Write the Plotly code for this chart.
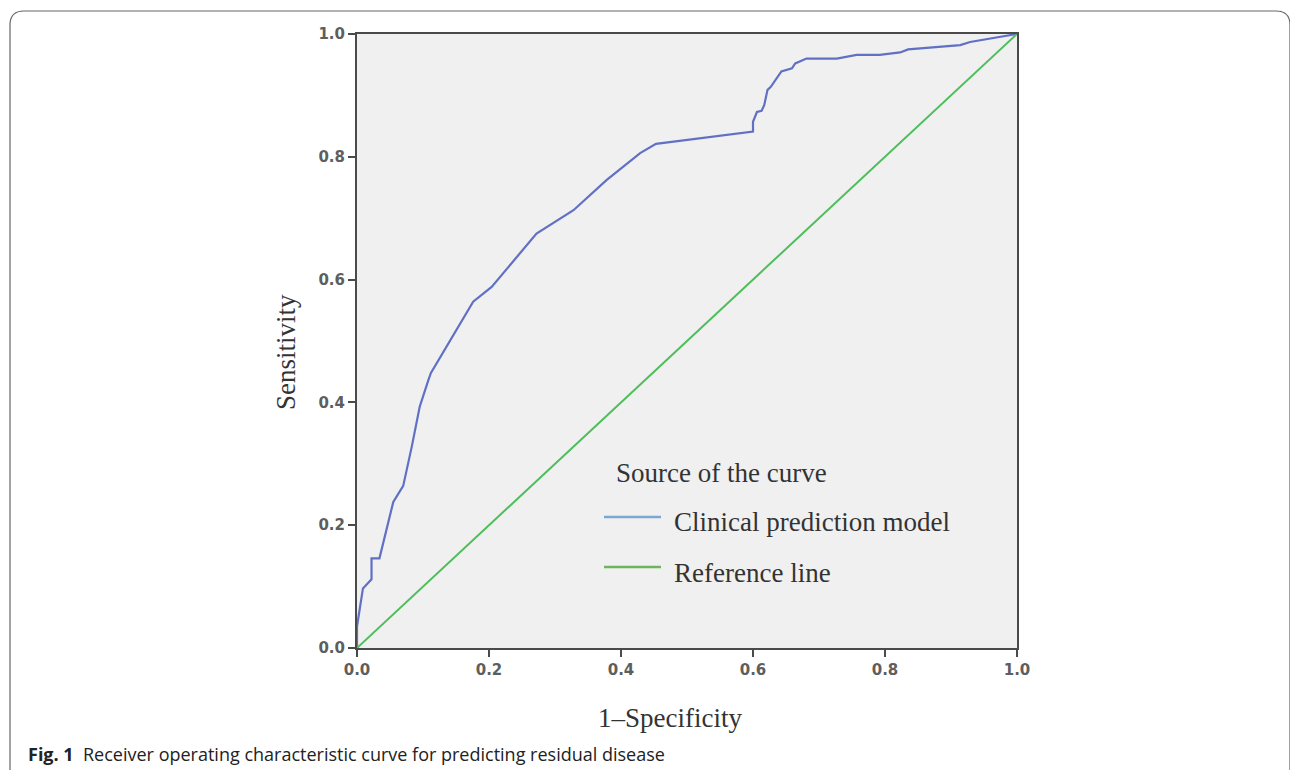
import plotly.graph_objects as go

# ROC curve points (1-specificity, sensitivity)
fpr = [0.0, 0.0, 0.009, 0.022, 0.022, 0.034, 0.055, 0.070, 0.083, 0.095, 0.108, 0.112,
       0.176, 0.204, 0.272, 0.328, 0.378, 0.429, 0.453, 0.600, 0.600, 0.606, 0.613,
       0.617, 0.622, 0.627, 0.643, 0.659, 0.664, 0.681, 0.727, 0.757, 0.792, 0.823,
       0.835, 0.914, 0.929, 1.0]
tpr = [0.0, 0.035, 0.097, 0.112, 0.146, 0.146, 0.238, 0.264, 0.328, 0.393, 0.436, 0.448,
       0.564, 0.588, 0.675, 0.713, 0.762, 0.806, 0.821, 0.841, 0.857, 0.873, 0.875,
       0.884, 0.909, 0.914, 0.939, 0.944, 0.952, 0.960, 0.960, 0.966, 0.966, 0.970,
       0.975, 0.982, 0.987, 1.0]
ref_x = [0.0, 1.0]
ref_y = [0.0, 1.0]
tick_vals = [0.0, 0.2, 0.4, 0.6, 0.8, 1.0]
tick_text = ["0.0", "0.2", "0.4", "0.6", "0.8", "1.0"]

series_names = ["Clinical prediction model", "Reference line"]
curve_color = "#6070C4"
ref_color = "#4DBE5A"
legend_blue = "#7BA7D4"
legend_green = "#6DB45C"

# page body has an 8px margin; compensate so the figure lines up with the window
OFF = 8
W, H = 1298 - OFF, 770 - OFF
L, T = 357 - OFF, 34 - OFF
R = W - (1017 - OFF)
B = H - (648 - OFF)
pw, ph = W - L - R, H - T - B

def px(x):
    return (x - OFF - L) / pw

def py(y):
    return (H - B - (y - OFF)) / ph

fig = go.Figure()
fig.add_trace(go.Scatter(x=fpr, y=tpr, mode="lines", name=series_names[0],
                         line=dict(color=curve_color, width=2.2), showlegend=False))
fig.add_trace(go.Scatter(x=ref_x, y=ref_y, mode="lines", name=series_names[1],
                         line=dict(color=ref_color, width=2), showlegend=False))

serif = "Liberation Serif, Times New Roman, serif"
tickfont = dict(family="DejaVu Sans, sans-serif", size=15, color="#5e5e5e", weight="bold")

axis_common = dict(range=[0, 1], tickvals=tick_vals, ticktext=tick_text,
                   showgrid=False, zeroline=False, showline=True, linecolor="#4a4a4a",
                   linewidth=2, mirror=True, ticks="outside", ticklen=7, tickwidth=2,
                   tickcolor="#4a4a4a", tickfont=tickfont)

fig.update_layout(
    width=W, height=H,
    margin=dict(l=L, r=R, t=T, b=B),
    paper_bgcolor="white",
    plot_bgcolor="#F0F0F0",
    showlegend=False,
    xaxis=axis_common,
    yaxis=axis_common,
)

tfont = dict(family=serif, size=27, color="#333333")
annotations = [
    dict(text="Sensitivity", x=px(286), y=py(352), xref="paper", yref="paper",
         xanchor="center", yanchor="middle",
         textangle=-90, showarrow=False, font=tfont),
    dict(text="1\u2013Specificity", x=px(670), y=py(718), xref="paper", yref="paper",
         xanchor="center", yanchor="middle", showarrow=False, font=tfont),
    dict(text="<b>Fig. 1</b>  Receiver operating characteristic curve for predicting residual disease",
         x=px(26), y=py(754), xref="paper", yref="paper", xanchor="left", yanchor="middle",
         showarrow=False, font=dict(family="Open Sans, sans-serif", size=18, color="#222222")),
    dict(text="Source of the curve", x=px(614), y=py(473), xref="paper", yref="paper",
         xanchor="left", yanchor="middle", showarrow=False, font=tfont),
    dict(text=series_names[0], x=px(672), y=py(522), xref="paper", yref="paper",
         xanchor="left", yanchor="middle", showarrow=False, font=tfont),
    dict(text=series_names[1], x=px(672), y=py(573), xref="paper", yref="paper",
         xanchor="left", yanchor="middle", showarrow=False, font=tfont),
]
fig.update_layout(annotations=annotations)

# outer rounded frame
x0, x1 = px(10), px(1290)
y0, y1 = py(800), py(11)
rx, ry = 14 / pw, 14 / ph
path = (f"M {x0},{y0} L {x0},{y1-ry} Q {x0},{y1} {x0+rx},{y1} "
        f"L {x1-rx},{y1} Q {x1},{y1} {x1},{y1-ry} L {x1},{y0}")
shapes = [
    dict(type="path", path=path, xref="paper", yref="paper",
         line=dict(color="#666666", width=1.2)),
    dict(type="line", xref="paper", yref="paper", x0=px(604), x1=px(661),
         y0=py(517), y1=py(517), line=dict(color=legend_blue, width=2.5)),
    dict(type="line", xref="paper", yref="paper", x0=px(604), x1=px(661),
         y0=py(567), y1=py(567), line=dict(color=legend_green, width=2.5)),
]
fig.update_layout(shapes=shapes)

fig.write_html("out.html")
